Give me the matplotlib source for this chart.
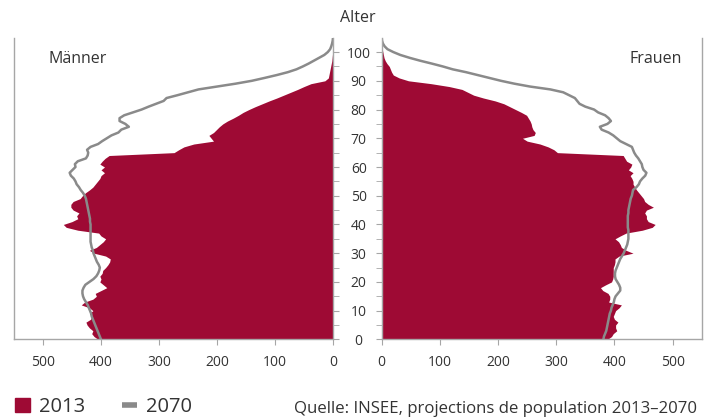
import matplotlib
matplotlib.use("Agg")
import matplotlib.pyplot as plt
from matplotlib.patches import Patch
from matplotlib.lines import Line2D
import numpy as np

plt.rcParams['font.family'] = ['Open Sans', 'DejaVu Sans']

ages = list(range(0, 106))

# Männer 2013 (Tausend)
m2013 = [405, 412, 416, 414, 420, 424, 426, 418, 416, 420,
         414, 420, 434, 428, 414, 408, 410, 400, 390, 396,
         402, 400, 402, 398, 397, 392, 388, 385, 384, 392,
         412, 420, 408, 402, 396, 392, 400, 404, 440, 460,
         465, 450, 440, 442, 438, 448, 452, 452, 448, 436,
         432, 427, 420, 414, 410, 406, 402, 400, 394, 400,
         394, 402, 398, 393, 386, 274, 266, 257, 240, 206,
         210, 214, 206, 201, 196, 190, 182, 172, 163, 155,
         145, 134, 122, 110, 97, 85, 73, 61, 50, 38,
         14, 8, 7, 6, 5, 4, 3, 2, 1.5, 1,
         0.5, 0, 0, 0, 0, 0]
# Männer 2070
m2070 = [400, 402, 404, 406, 408, 410, 412, 414, 416, 417,
         419, 421, 423, 426, 429, 431, 432, 432, 430, 427,
         420, 413, 408, 405, 403, 402, 404, 407, 409, 411,
         413, 414, 416, 417, 418, 418, 418, 418, 418, 418,
         418, 419, 419, 420, 421, 422, 423, 424, 425, 426,
         428, 431, 435, 438, 442, 444, 447, 452, 454, 449,
         444, 445, 440, 426, 423, 422, 424, 418, 405, 398,
         390, 382, 370, 365, 352, 358, 368, 368, 360, 345,
         330, 318, 305, 292, 287, 268, 250, 232, 200, 168,
         140, 118, 97, 78, 63, 52, 42, 33, 24, 15,
         9, 5, 3, 1.5, 0.5, 0]
# Frauen 2013
f2013 = [388, 395, 398, 404, 402, 402, 406, 400, 398, 400,
         402, 408, 412, 390, 392, 392, 389, 380, 376, 385,
         395, 397, 398, 398, 398, 398, 400, 401, 401, 408,
         432, 420, 412, 410, 407, 401, 410, 420, 448, 465,
         470, 458, 455, 455, 452, 455, 467, 458, 452, 450,
         446, 442, 438, 435, 432, 432, 430, 427, 432, 424,
         428, 430, 421, 418, 415, 302, 296, 286, 272, 250,
         242, 262, 264, 260, 258, 257, 255, 252, 249, 240,
         230, 220, 210, 195, 175, 158, 148, 138, 116, 85,
         46, 30, 20, 17, 15, 13, 9, 6, 4, 3,
         2, 1, 0.5, 0, 0, 0]
# Frauen 2070
f2070 = [381, 382, 384, 386, 387, 388, 389, 390, 391, 392,
         394, 395, 397, 399, 400, 402, 406, 410, 410, 408,
         405, 402, 401, 401, 402, 404, 406, 408, 410, 413,
         416, 418, 420, 422, 423, 424, 424, 424, 424, 423,
         423, 423, 423, 423, 424, 424, 425, 426, 427, 428,
         430, 431, 432, 438, 442, 444, 448, 453, 455, 450,
         448, 447, 444, 441, 437, 434, 432, 430, 420, 410,
         404, 398, 390, 378, 375, 388, 394, 390, 384, 372,
         365, 350, 340, 336, 332, 322, 312, 290, 255, 228,
         205, 185, 165, 145, 122, 105, 86, 66, 48, 32,
         20, 10, 5, 2, 0.5, 0]

red = '#9e0a34'
grey = '#8a8a8a'
spine_c = '#a6a6a6'
txt = '#333333'

fig = plt.figure(figsize=(7.13, 4.19), dpi=100)
ax_l = fig.add_axes([14/713, 0.190, 319/713, 0.720])
ax_r = fig.add_axes([381.7/713, 0.190, 320/713, 0.720])

ax_l.fill_betweenx(ages, 0, m2013, color=red, lw=0)
ax_l.plot(m2070, ages, color=grey, lw=1.8)
ax_r.fill_betweenx(ages, 0, f2013, color=red, lw=0)
ax_r.plot(f2070, ages, color=grey, lw=1.8)

ax_l.set_xlim(550, 0)
ax_r.set_xlim(0, 550)
for ax in (ax_l, ax_r):
    ax.set_ylim(0, 105)
    ax.set_xticks(range(0, 501, 100))
    ax.spines['top'].set_visible(False)
    for s in ax.spines.values():
        s.set_color(spine_c)
        s.set_linewidth(1.0)
    ax.tick_params(axis='x', colors=spine_c, labelcolor=txt, labelsize=10,
                   length=4, pad=7)
    ax.set_yticks(range(0, 101, 10))
    ax.set_yticks(range(5, 101, 10), minor=True)
    ax.tick_params(axis='y', which='both', colors=spine_c, length=4)

ax_l.yaxis.tick_right()
ax_l.tick_params(axis='y', which='major', labelcolor=txt, labelsize=10, pad=14.5)
for lbl in ax_l.get_yticklabels():
    lbl.set_horizontalalignment('center')
ax_r.tick_params(axis='y', which='both', labelleft=False)

ax_l.text(0.107, 0.93, 'Männer', transform=ax_l.transAxes, fontsize=11.5,
          color=txt, ha='left', va='center')
ax_r.text(0.938, 0.93, 'Frauen', transform=ax_r.transAxes, fontsize=11.5,
          color=txt, ha='right', va='center')
fig.text(357.5/713, 1 - 18/419, 'Alter', fontsize=11.5, color=txt,
         ha='center', va='center')

handles = [Patch(color=red, label='2013'),
           Line2D([], [], color=grey, lw=4, solid_capstyle='butt', label='2070')]
fig.legend(handles=handles, loc='center left', bbox_to_anchor=(15/713, 1 - 407/419),
           ncol=2, frameon=False, fontsize=14.5, handlelength=0.75,
           handleheight=0.75, handletextpad=0.45, columnspacing=1.8,
           borderpad=0, borderaxespad=0, labelcolor=txt)
fig.text(697/713, 1 - 409/419, 'Quelle: INSEE, projections de population 2013–2070',
         fontsize=12.1, color=txt, ha='right', va='center')

fig.savefig('out.png', dpi=100)
